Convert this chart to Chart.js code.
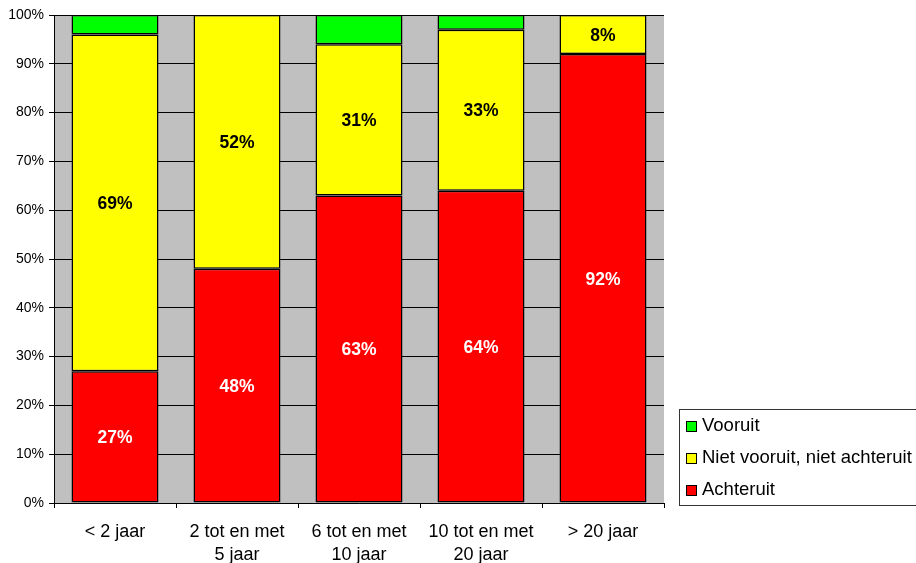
<!DOCTYPE html>
<html>
<head>
<meta charset="utf-8">
<style>
  html, body { margin: 0; padding: 0; background: #fff; }
  #wrap { width: 916px; height: 563px; }
</style>
<script src="https://cdn.jsdelivr.net/npm/chart.js@4/dist/chart.umd.min.js"></script>
</head>
<body>
<div id="wrap"><canvas id="c" width="916" height="563"></canvas></div>
<script>
// Categories (duur) and shares per answer, in percent
const categories = [["< 2 jaar"], ["2 tot en met", "5 jaar"], ["6 tot en met", "10 jaar"], ["10 tot en met", "20 jaar"], ["> 20 jaar"]];
const achteruit = [27, 48, 63, 64, 92];
const nietVooruitNietAchteruit = [69, 52, 31, 33, 8];
const vooruit = [4, null, 6, 3, null];
const yTicks = [0, 10, 20, 30, 40, 50, 60, 70, 80, 90, 100];

const FONT = "'Liberation Sans', Arial, sans-serif";

// Gray plot background
const plotBackground = {
  id: 'plotBackground',
  beforeDraw(chart) {
    const { ctx, chartArea: a } = chart;
    ctx.save();
    ctx.fillStyle = '#C0C0C0';
    ctx.fillRect(a.left, a.top, a.right - a.left, a.bottom - a.top);
    ctx.restore();
  }
};

// Percentage labels in the middle of each segment
const segmentLabels = {
  id: 'segmentLabels',
  afterDatasetsDraw(chart) {
    const { ctx } = chart;
    ctx.save();
    ctx.font = "bold 17.5px " + FONT;
    ctx.textAlign = 'center';
    ctx.textBaseline = 'middle';
    chart.data.datasets.forEach((ds, i) => {
      if (!ds.showValues) return;
      const meta = chart.getDatasetMeta(i);
      meta.data.forEach((bar, j) => {
        const v = ds.data[j];
        if (v == null) return;
        const mid = (bar.y + bar.base) / 2;
        ctx.fillStyle = ds.valueColor;
        ctx.fillText(v + '%', bar.x, mid + 1.5);
      });
    });
    ctx.restore();
  }
};

// Boxed legend at the lower right
const boxLegend = {
  id: 'boxLegend',
  afterDraw(chart) {
    const { ctx } = chart;
    ctx.save();
    ctx.strokeStyle = '#333';
    ctx.lineWidth = 1;
    ctx.strokeRect(679.5, 409.5, 250, 96);
    const items = chart.data.datasets.slice().reverse();
    ctx.font = "18.5px " + FONT;
    ctx.textBaseline = 'middle';
    ctx.textAlign = 'left';
    items.forEach((ds, k) => {
      const y = 426 + k * 32;
      ctx.fillStyle = ds.backgroundColor;
      ctx.fillRect(686, y - 5, 11, 11);
      ctx.strokeStyle = '#000';
      ctx.strokeRect(686.5, y - 4.5, 10, 10);
      ctx.fillStyle = '#000';
      ctx.fillText(ds.label, 702, y);
    });
    ctx.restore();
  }
};

new Chart(document.getElementById('c'), {
  type: 'bar',
  data: {
    labels: categories,
    datasets: [
      { label: 'Achteruit', data: achteruit, backgroundColor: '#FF0000', showValues: true, valueColor: '#FFFFFF' },
      { label: 'Niet vooruit, niet achteruit', data: nietVooruitNietAchteruit, backgroundColor: '#FFFF00', showValues: true, valueColor: '#000000' },
      { label: 'Vooruit', data: vooruit, backgroundColor: '#00FF00', showValues: false }
    ].map(d => Object.assign({
      borderColor: '#000',
      borderWidth: 1.5,
      borderSkipped: false,
      categoryPercentage: 1,
      barPercentage: 0.713
    }, d))
  },
  options: {
    responsive: false,
    animation: false,
    layout: { padding: { left: 0, right: 252, top: 15, bottom: 0 } },
    plugins: { legend: { display: false }, tooltip: { enabled: false } },
    scales: {
      x: {
        stacked: true,
        grid: { drawOnChartArea: false, drawTicks: true, tickLength: 5, color: '#000', offset: true },
        border: { color: '#000', width: 1 },
        ticks: { color: '#000', font: { family: FONT, size: 18, lineHeight: 1.3 }, padding: 12, maxRotation: 0, autoSkip: false },
        afterFit(s) { s.height = 60; }
      },
      y: {
        stacked: true,
        min: 0,
        max: 100,
        afterBuildTicks(s) { s.ticks = yTicks.map(v => ({ value: v })); },
        grid: { color: '#000', lineWidth: 1, tickLength: 5 },
        border: { color: '#000', width: 1 },
        ticks: { color: '#000', font: { family: FONT, size: 14 }, padding: 5, callback: v => v + '%' },
        afterFit(s) { s.width = 54; }
      }
    }
  },
  plugins: [plotBackground, segmentLabels, boxLegend]
});
</script>
</body>
</html>
